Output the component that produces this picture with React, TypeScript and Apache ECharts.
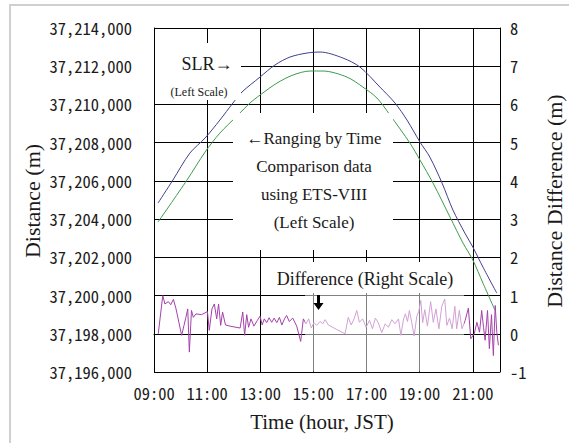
import React, { useEffect, useRef } from "react";
import * as echarts from "echarts";

// Time in hours (JST) and distances (m)
const slrTime = [9.15, 9.71, 10.35, 10.92, 11.48, 11.97, 12.31, 12.99, 13.55, 14.12, 14.76, 15.25, 16.11, 16.75, 17.5, 18.07, 18.52, 19.01, 19.38, 19.84, 20.25, 20.7, 21.0, 21.38, 21.9];
const slrDist = [37204837, 37206041, 37207455, 37208240, 37209183, 37210073, 37210649, 37211434, 37212063, 37212482, 37212691, 37212743, 37212429, 37211958, 37210911, 37210073, 37209183, 37208031, 37207246, 37205884, 37204470, 37203266, 37202533, 37201486, 37200125];

const rangTime = [9.15, 10.24, 10.92, 11.48, 12.16, 12.61, 12.99, 13.63, 14.23, 14.87, 15.36, 16.26, 16.86, 17.39, 17.88, 18.63, 19.01, 19.5, 20.14, 20.63, 21.0, 21.38, 21.83];
const rangDist = [37203842, 37206041, 37207507, 37208502, 37209445, 37210073, 37210492, 37211120, 37211539, 37211749, 37211749, 37211434, 37210911, 37210335, 37209445, 37207979, 37207088, 37205884, 37204104, 37202743, 37201852, 37200648, 37199235];

const diffTime = [9.16, 9.33, 9.41, 9.54, 9.63, 9.73, 9.83, 10.04, 10.13, 10.2, 10.27, 10.33, 10.41, 10.48, 10.58, 10.79, 11.01, 11.08, 11.18, 11.27, 11.36, 11.43, 11.51, 11.58, 11.69, 11.86, 12.24, 12.34, 12.41, 12.49, 12.56, 12.65, 12.76, 12.89, 12.99, 13.07, 13.15, 13.24, 13.33, 13.43, 13.52, 13.62, 13.72, 13.81, 13.91, 13.99, 14.09, 14.22, 14.37, 14.52, 14.62, 14.72, 14.82, 14.92, 15.02, 15.12, 15.25, 15.35, 15.44, 15.56, 15.88, 16.19, 16.31, 16.42, 16.53, 16.63, 16.73, 16.85, 16.98, 17.11, 17.22, 17.33, 17.44, 17.57, 17.7, 17.82, 17.95, 18.07, 18.2, 18.29, 18.39, 18.46, 18.54, 18.61, 18.7, 18.79, 18.89, 18.96, 19.04, 19.11, 19.19, 19.29, 19.41, 19.51, 19.61, 19.72, 19.83, 19.94, 20.02, 20.12, 20.22, 20.32, 20.39, 20.49, 20.59, 20.71, 20.83, 20.92, 21.05, 21.15, 21.25, 21.33, 21.4, 21.46, 21.55, 21.62, 21.7, 21.77, 21.84, 21.9, 21.96];
const diffVal = [0, 1.0, 0.78, 0.84, 0.76, 0.9, 0.65, -0.04, 0.22, 0.43, 0.65, -0.48, 0.61, 0.43, 0.52, 0.5, 0.58, 0.09, 0.65, 0.78, 0.39, 0.78, 0.22, 0.57, 0.23, 0.2, 0.15, 0.57, -0.04, 0.5, 0.17, 0.39, 0.2, 0.35, 0.46, 0.23, 0.39, 0.29, 0.42, 0.3, 0.41, 0.29, 0.43, 0.23, 0.39, 0.48, 0.32, 0.41, 0.2, -0.2, 0.39, 0.26, 0.39, 0.15, 0.29, 0.22, 0.32, 0.26, 0.37, 0.23, 0.11, 0, 0.43, 0.23, 0.39, 0.61, 0.3, 0.39, 0.17, 0.35, 0.13, 0.41, 0.29, 0.03, 0.26, 0.17, 0.37, 0.26, 0.39, -0.04, 0.39, 0.52, 0.32, 0.61, 0.29, -0.06, 0.46, 0.58, 0.87, 0.29, 0.63, 0.2, 0.84, 0.3, 0.65, 0.13, 0.72, 0.91, 0.22, 0.41, 0.13, 0.72, 0.13, 0.61, 0.13, 0.35, 0.67, -0.13, 0, 0.3, 0.04, 0.61, 0.17, -0.17, 0.61, -0.39, 0.5, -0.57, 0.74, 0.04, -0.3];

const leftMin = 37196000;
const leftMax = 37214000;
const leftStep = 2000;
const rightMin = -1;
const rightMax = 8;
const timeMin = 9;
const timeMax = 22.02;
const timeStep = 2;

const tickFont = '"Noto Sans Mono CJK JP", "Noto Sans Mono CJK SC", "Liberation Mono", monospace';
const serif = '"Liberation Serif", "Times New Roman", serif';

const zip = (a: number[], b: number[]) => a.map((v, i) => [v, b[i]]);

export default function App() {
  const ref = useRef<HTMLDivElement>(null);
  useEffect(() => {
    document.body.style.margin = "0";
    const chart = echarts.init(ref.current!, undefined, { renderer: "svg" });
    const fmtLeft = (v: number) =>
      Math.round(v).toString().replace(/\B(?=(\d{3})+(?!\d))/g, ",");
    const fmtTime = (v: number) => {
      if (Math.abs(v - Math.round(v)) > 1e-6) return "";
      const h = Math.round(v);
      return (h < 10 ? "0" : "") + h + ":00";
    };
    chart.setOption({
      animation: false,
      backgroundColor: "#ffffff",
      grid: { left: 154, top: 28, right: 69, bottom: 71, containLabel: false },
      xAxis: {
        type: "value",
        min: timeMin,
        max: timeMax,
        interval: timeStep,
        axisLine: { show: true, lineStyle: { color: "#000", width: 1 } },
        axisTick: { show: false },
        splitLine: { show: true, lineStyle: { color: "#000", width: 1 } },
        axisLabel: {
          formatter: fmtTime,
          margin: 13,
          fontFamily: tickFont,
          fontSize: 16.5,
          color: "#1a1a1a",
          showMaxLabel: false,
        },
      },
      yAxis: [
        {
          type: "value",
          min: leftMin,
          max: leftMax,
          interval: leftStep,
          position: "left",
          axisLine: { show: true, lineStyle: { color: "#000", width: 1 } },
          axisTick: { show: false },
          splitLine: { show: true, lineStyle: { color: "#000", width: 1 } },
          axisLabel: {
            formatter: fmtLeft,
            margin: 22,
            fontFamily: tickFont,
            fontSize: 16.5,
            color: "#1a1a1a",
          },
        },
        {
          type: "value",
          min: rightMin,
          max: rightMax,
          interval: 1,
          position: "right",
          axisLine: { show: true, lineStyle: { color: "#000", width: 1 } },
          axisTick: { show: false },
          splitLine: { show: false },
          axisLabel: {
            margin: 10,
            fontFamily: tickFont,
            fontSize: 16.5,
            color: "#1a1a1a",
          },
        },
      ],
      series: [
        {
          name: "SLR",
          type: "line",
          yAxisIndex: 0,
          data: zip(slrTime, slrDist),
          symbol: "none",
          smooth: 0.3,
          lineStyle: { color: "#3f3f8f", width: 1 },
          z: 2,
        },
        {
          name: "Ranging",
          type: "line",
          yAxisIndex: 0,
          data: zip(rangTime, rangDist),
          symbol: "none",
          smooth: 0.3,
          lineStyle: { color: "#3e9a4c", width: 1 },
          z: 2,
        },
        {
          name: "Difference",
          type: "line",
          yAxisIndex: 1,
          data: zip(diffTime, diffVal),
          symbol: "none",
          lineStyle: { color: "#a442aa", width: 1 },
          z: 2,
        },
      ],
      graphic: [
        // outer frame
        { type: "rect", z: 0, silent: true, shape: { x: 10, y: 5, width: 600, height: 500 }, style: { fill: "none", stroke: "#d0d0d0", lineWidth: 2 } },
        // white text boxes
        { type: "rect", z: 5, shape: { x: 155, y: 43, width: 86, height: 57 }, style: { fill: "#fff" } },
        { type: "rect", z: 5, shape: { x: 233, y: 113, width: 160, height: 137 }, style: { fill: "#fff" } },
        { type: "rect", z: 5, shape: { x: 272, y: 262, width: 192, height: 31.5 }, style: { fill: "#fff" } },
        { type: "rect", z: 5, shape: { x: 305, y: 294, width: 159, height: 77.5 }, style: { fill: "rgba(255,255,255,0.5)" } },
        // annotation texts
        { type: "text", z: 6, x: 207, y: 64, style: { text: "SLR→", font: `18px ${serif}`, fill: "#1a1a1a", align: "center", verticalAlign: "middle" } },
        { type: "text", z: 6, x: 199, y: 92, style: { text: "(Left Scale)", font: `12px ${serif}`, fill: "#1a1a1a", align: "center", verticalAlign: "middle" } },
        { type: "text", z: 6, x: 314, y: 138, style: { text: "←Ranging by Time", font: `17px ${serif}`, fill: "#1a1a1a", align: "center", verticalAlign: "middle" } },
        { type: "text", z: 6, x: 314, y: 166, style: { text: "Comparison data", font: `17px ${serif}`, fill: "#1a1a1a", align: "center", verticalAlign: "middle" } },
        { type: "text", z: 6, x: 314, y: 194, style: { text: "using ETS-VIII", font: `17px ${serif}`, fill: "#1a1a1a", align: "center", verticalAlign: "middle" } },
        { type: "text", z: 6, x: 314, y: 222, style: { text: "(Left Scale)", font: `17px ${serif}`, fill: "#1a1a1a", align: "center", verticalAlign: "middle" } },
        { type: "text", z: 6, x: 365, y: 279, style: { text: "Difference (Right Scale)", font: `18px ${serif}`, fill: "#1a1a1a", align: "center", verticalAlign: "middle" } },
        // bold down arrow
        { type: "rect", z: 6, shape: { x: 317, y: 295, width: 3, height: 9 }, style: { fill: "#000" } },
        { type: "polygon", z: 6, shape: { points: [[313.5, 303], [323.5, 303], [318.5, 310]] }, style: { fill: "#000" } },
        // axis titles
        { type: "text", z: 6, x: 32, y: 201, rotation: Math.PI / 2, style: { text: "Distance (m)", font: `22px ${serif}`, fill: "#1a1a1a", align: "center", verticalAlign: "middle" } },
        { type: "text", z: 6, x: 554, y: 201, rotation: Math.PI / 2, style: { text: "Distance Difference (m)", font: `22px ${serif}`, fill: "#1a1a1a", align: "center", verticalAlign: "middle" } },
        { type: "text", z: 6, x: 322, y: 422, style: { text: "Time (hour, JST)", font: `21px ${serif}`, fill: "#1a1a1a", align: "center", verticalAlign: "middle" } },
      ],
    });
    return () => chart.dispose();
  }, []);
  return <div ref={ref} style={{ width: 569, height: 443 }} />;
}
